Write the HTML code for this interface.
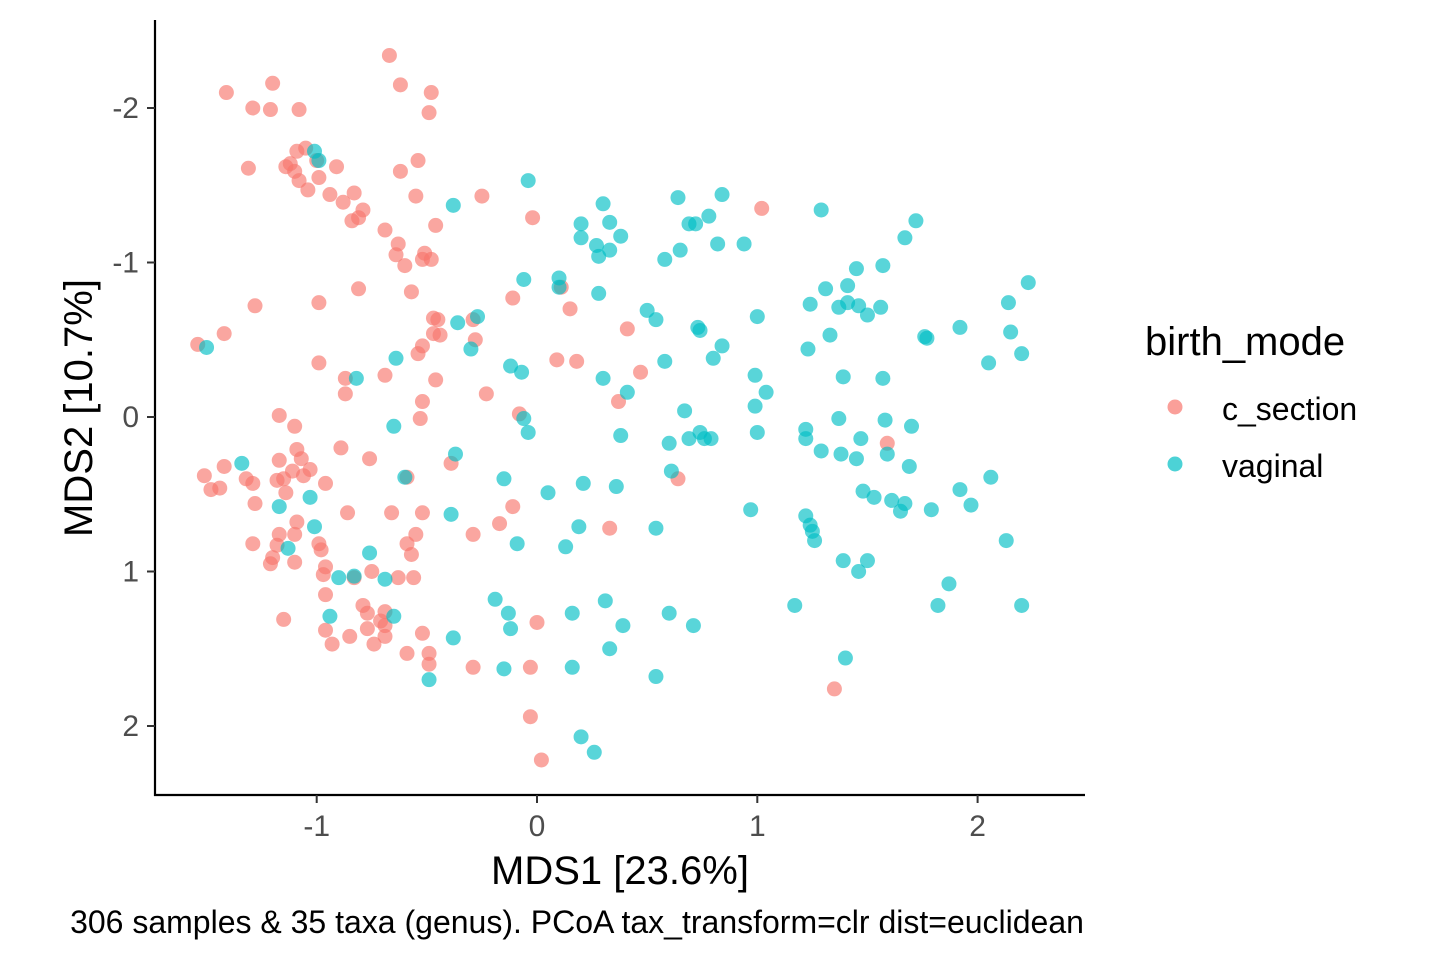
<!DOCTYPE html>
<html><head><meta charset="utf-8"><style>
html,body{margin:0;padding:0;background:#fff;}
svg{display:block;font-family:"Liberation Sans",Arial,sans-serif;}
</style></head><body>
<svg id="chart" width="1440" height="960" viewBox="0 0 1440 960">
<g id="points"></g>
<line x1="155" y1="20" x2="155" y2="796" stroke="#000" stroke-width="2.2"/>
<line x1="154" y1="795" x2="1085" y2="795" stroke="#000" stroke-width="2.2"/>
<g id="axes"></g>
<text x="620" y="884" text-anchor="middle" font-size="40" fill="#000">MDS1 [23.6%]</text>
<text transform="translate(92,408) rotate(-90)" text-anchor="middle" font-size="40" fill="#000">MDS2 [10.7%]</text>
<text x="577" y="933" text-anchor="middle" font-size="32" fill="#000">306 samples &amp; 35 taxa (genus). PCoA tax_transform=clr dist=euclidean</text>
<g>
<text x="1145" y="355" font-size="40" fill="#000">birth_mode</text>
<g><circle cx="1175" cy="407" r="7.5" fill="#F8766D" fill-opacity="0.7"/><text x="1222" y="420" font-size="32" fill="#000">c_section</text></g>
<g><circle cx="1175" cy="464" r="7.5" fill="#00BFC4" fill-opacity="0.7"/><text x="1222" y="477" font-size="32" fill="#000">vaginal</text></g>
</g>
</svg>
<script>
const xTicks=[-1,0,1,2];
const yTicks=[-2,-1,0,1,2];
const csX=[-0.67,-0.62,-1.20,-1.41,-0.48,-1.29,-1.21,-1.08,-0.49,-1.05,-1.09,-1.00,-0.91,-1.12,-1.10,-0.54,-1.31,-1.14,-0.62,-0.99,-1.08,-1.04,-0.83,-0.94,-0.55,-0.25,-0.88,-0.79,-0.81,-0.84,-0.02,1.02,-0.46,-0.69,-0.63,-0.51,-0.64,-0.52,-0.48,-0.60,-0.57,-0.81,-0.99,-1.28,-0.11,0.11,0.15,-0.47,-0.45,-0.29,-0.47,-0.44,-1.42,-1.54,-0.28,-0.52,0.41,-0.54,-0.99,-0.87,-0.69,-0.46,0.09,0.18,0.47,-0.23,-0.87,0.37,-0.52,-0.08,-1.17,-1.10,-0.53,-0.39,-1.09,-0.89,-0.76,-1.07,-1.17,-1.11,-1.03,-1.42,-1.51,-1.32,-1.29,-1.18,-1.15,-1.06,-1.14,-1.44,-1.48,-0.96,-0.59,0.64,-1.28,-0.11,-0.86,-0.66,-0.52,-0.17,-1.09,-1.17,-1.10,-1.18,-1.29,-0.99,-0.98,-0.59,-0.55,-0.57,-0.29,0.33,-1.20,-1.21,-1.10,-0.96,-0.75,-0.56,-0.97,-0.83,-0.63,-0.96,-0.79,-0.77,-1.15,-0.69,-0.71,-0.69,-0.77,-0.96,-0.69,-0.85,-0.52,0.00,-0.93,-0.74,-0.49,-0.59,-0.49,-0.29,-0.03,1.35,-0.03,0.02,1.59];
const csY=[-2.34,-2.15,-2.16,-2.10,-2.10,-2.00,-1.99,-1.99,-1.97,-1.74,-1.72,-1.66,-1.62,-1.64,-1.59,-1.66,-1.61,-1.62,-1.59,-1.55,-1.53,-1.47,-1.45,-1.44,-1.43,-1.43,-1.39,-1.34,-1.29,-1.27,-1.29,-1.35,-1.24,-1.21,-1.12,-1.06,-1.05,-1.02,-1.02,-0.98,-0.81,-0.83,-0.74,-0.72,-0.77,-0.84,-0.70,-0.64,-0.63,-0.63,-0.54,-0.53,-0.54,-0.47,-0.50,-0.46,-0.57,-0.41,-0.35,-0.25,-0.27,-0.24,-0.37,-0.36,-0.29,-0.15,-0.15,-0.10,-0.10,-0.02,-0.01,0.06,0.01,0.30,0.21,0.20,0.27,0.27,0.28,0.35,0.34,0.32,0.38,0.40,0.43,0.41,0.40,0.38,0.49,0.46,0.47,0.43,0.39,0.40,0.56,0.58,0.62,0.62,0.62,0.69,0.68,0.76,0.76,0.83,0.82,0.82,0.86,0.82,0.76,0.89,0.76,0.72,0.91,0.95,0.94,0.97,1.00,1.04,1.02,1.04,1.04,1.15,1.22,1.27,1.31,1.26,1.32,1.35,1.37,1.38,1.42,1.42,1.40,1.33,1.47,1.47,1.53,1.53,1.60,1.62,1.62,1.76,1.94,2.22,0.17];
const vgX=[-1.50,-1.01,-0.99,-0.04,-0.38,0.30,0.64,0.84,1.29,1.72,0.20,0.33,0.69,0.72,0.78,0.20,0.38,0.27,0.33,0.28,0.65,0.58,0.82,0.94,1.67,-0.06,0.10,0.10,0.28,1.45,1.57,1.31,1.41,1.24,1.37,1.41,1.46,1.50,1.56,2.23,2.14,2.15,1.92,1.76,1.77,2.20,2.05,0.50,0.54,1.00,-0.27,-0.36,-0.30,0.73,0.74,1.33,1.23,0.84,0.80,-0.64,-0.12,-0.07,0.58,0.99,1.04,0.30,0.41,-0.82,1.39,1.57,0.99,0.67,1.37,1.58,1.70,-0.06,-0.04,-0.65,0.38,0.60,0.69,0.74,0.76,0.79,1.00,1.22,1.22,1.29,1.38,1.47,1.45,1.59,1.69,-1.34,-0.37,-0.60,-0.15,0.21,0.36,0.05,1.48,1.53,1.61,1.67,1.65,1.79,1.92,1.97,2.06,0.97,1.22,1.24,1.25,1.26,0.61,-1.17,-1.03,-1.01,-1.13,-0.39,-0.09,0.19,0.13,0.54,-0.76,-0.90,-0.69,-0.83,2.13,1.39,1.46,1.50,1.87,1.82,2.20,1.17,-0.19,-0.13,-0.12,0.16,0.31,0.60,0.71,0.39,-0.94,-0.65,-0.38,0.33,-0.15,0.16,0.54,1.40,-0.49,0.20,0.26];
const vgY=[-0.45,-1.72,-1.66,-1.53,-1.37,-1.38,-1.42,-1.44,-1.34,-1.27,-1.25,-1.26,-1.25,-1.25,-1.30,-1.16,-1.17,-1.11,-1.08,-1.04,-1.08,-1.02,-1.12,-1.12,-1.16,-0.89,-0.90,-0.84,-0.80,-0.96,-0.98,-0.83,-0.85,-0.73,-0.71,-0.74,-0.72,-0.66,-0.71,-0.87,-0.74,-0.55,-0.58,-0.52,-0.51,-0.41,-0.35,-0.69,-0.63,-0.65,-0.65,-0.61,-0.44,-0.58,-0.56,-0.53,-0.44,-0.46,-0.38,-0.38,-0.33,-0.29,-0.36,-0.27,-0.16,-0.25,-0.16,-0.25,-0.26,-0.25,-0.07,-0.04,0.01,0.02,0.06,0.01,0.10,0.06,0.12,0.17,0.14,0.10,0.14,0.14,0.10,0.08,0.14,0.22,0.24,0.14,0.27,0.24,0.32,0.30,0.24,0.39,0.40,0.43,0.45,0.49,0.48,0.52,0.54,0.56,0.61,0.60,0.47,0.57,0.39,0.60,0.64,0.70,0.74,0.80,0.35,0.58,0.52,0.71,0.85,0.63,0.82,0.71,0.84,0.72,0.88,1.04,1.05,1.03,0.80,0.93,1.00,0.93,1.08,1.22,1.22,1.22,1.18,1.27,1.37,1.27,1.19,1.27,1.35,1.35,1.29,1.29,1.43,1.50,1.63,1.62,1.68,1.56,1.70,2.07,2.17];
const NS='http://www.w3.org/2000/svg';
const sx=v=>537+v*220.3;
const sy=v=>417+v*154.5;
const pts=document.getElementById('points');
function draw(xs,ys,color,name){
  for(let i=0;i<xs.length;i++){
    const c=document.createElementNS(NS,'circle');
    c.setAttribute('cx',sx(xs[i]));c.setAttribute('cy',sy(ys[i]));c.setAttribute('r',7.5);
    c.setAttribute('fill',color);c.setAttribute('fill-opacity','0.65');
    
    
    pts.appendChild(c);
  }
}
draw(csX,csY,'#F8766D','point-c-section');
draw(vgX,vgY,'#00BFC4','point-vaginal');
const ax=document.getElementById('axes');
xTicks.forEach(t=>{
  const l=document.createElementNS(NS,'line');
  l.setAttribute('x1',sx(t));l.setAttribute('x2',sx(t));l.setAttribute('y1',795);l.setAttribute('y2',803);
  l.setAttribute('stroke','#333');l.setAttribute('stroke-width','2');
  
  
  ax.appendChild(l);
  const tx=document.createElementNS(NS,'text');
  tx.setAttribute('x',sx(t));tx.setAttribute('y',836);tx.setAttribute('text-anchor','middle');
  tx.setAttribute('font-size','30');tx.setAttribute('fill','#4d4d4d');
  tx.textContent=t<0?'-'+Math.abs(t):String(t);
  
  
  ax.appendChild(tx);
});
yTicks.forEach(t=>{
  const l=document.createElementNS(NS,'line');
  l.setAttribute('x1',147);l.setAttribute('x2',155);l.setAttribute('y1',sy(t));l.setAttribute('y2',sy(t));
  l.setAttribute('stroke','#333');l.setAttribute('stroke-width','2');
  
  
  ax.appendChild(l);
  const tx=document.createElementNS(NS,'text');
  tx.setAttribute('x',139);tx.setAttribute('y',sy(t)+10);tx.setAttribute('text-anchor','end');
  tx.setAttribute('font-size','30');tx.setAttribute('fill','#4d4d4d');
  tx.textContent=t<0?'-'+Math.abs(t):String(t);
  
  
  ax.appendChild(tx);
});
</script>
</body></html>
